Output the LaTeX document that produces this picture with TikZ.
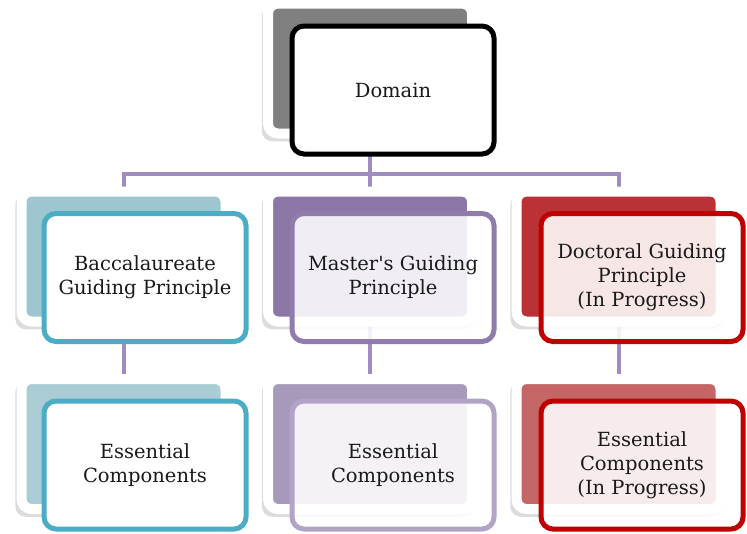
\documentclass[tikz,border=0pt]{standalone}
\usepackage{fontspec}
\setmainfont{DejaVu Serif}
\usetikzlibrary{shadows,backgrounds}
\definecolor{linkc}{RGB}{160,141,192}
\definecolor{txt}{RGB}{25,25,25}
\definecolor{domgray}{RGB}{128,128,128}
\definecolor{tealbk}{RGB}{157,198,208}
\definecolor{tealbkl}{RGB}{170,205,213}
\definecolor{tealln}{RGB}{75,172,198}
\definecolor{purbk}{RGB}{139,118,165}
\definecolor{purln}{RGB}{144,124,172}
\definecolor{purbkl}{RGB}{166,153,186}
\definecolor{purlnl}{RGB}{178,164,199}
\definecolor{redbk}{RGB}{186,50,53}
\definecolor{redbkl}{RGB}{196,101,102}
\definecolor{redln}{RGB}{192,0,0}

\begin{document}
\begin{tikzpicture}[x=1pt,y=-1pt,
  back/.style={draw=white,line width=10pt,rounded corners=10pt,minimum width=204pt,minimum height=130pt,inner sep=0pt,
    drop shadow={shadow xshift=-2pt,shadow yshift=-5pt,shadow scale=1.04,opacity=.28}},
  front/.style={draw=#1,line width=5pt,rounded corners=12pt,minimum width=202pt,minimum height=128pt,inner sep=2pt,
    fill=white,text=txt,text opacity=1,align=center,font=\fontsize{19.5}{24}\selectfont},
  see/.style={fill opacity=.88},
  link/.style={draw=linkc,line width=4pt}]
\useasboundingbox (0,0) rectangle (747,533);
\node[back,fill=domgray] (dombk) at (370,68.5) {};
\node[back,fill=tealbk] (bacbk) at (123.5,256.5) {};
\node[back,fill=purbk] (masbk) at (370,256.5) {};
\node[back,fill=redbk] (docbk) at (618.5,256.5) {};
\node[back,fill=tealbkl] (bacecbk) at (123.5,444) {};
\node[back,fill=purbkl] (masecbk) at (370,444) {};
\node[back,fill=redbkl] (docecbk) at (618.5,444) {};
\coordinate (hub) at (370,174);
\begin{pgfonlayer}{background}
\draw[link] (dombk.center) -- (hub);
\draw[link] (bacbk.center) |- (hub) -| (docbk.center);
\draw[link] (hub) -- (masbk.center);
\draw[link] (bacbk.center) -- (bacecbk.center);
\draw[link] (masbk.center) -- (masecbk.center);
\draw[link] (docbk.center) -- (docecbk.center);
\end{pgfonlayer}
\node[front=black] (dom) at (393,90) {Domain};
\node[front=tealln] (bac) at (145,277.5) {Baccalaureate\\Guiding Principle};
\node[front=purln,see] (mas) at (393,277.5) {Master\textquotesingle s Guiding\\Principle};
\node[front=redln,see] (doc) at (642,277.5) {Doctoral Guiding\\Principle\\(In Progress)};
\node[front=tealln] (bacec) at (145,465) {Essential\\Components};
\node[front=purlnl,see] (masec) at (393,465) {Essential\\Components};
\node[front=redln,see] (docec) at (642,465) {Essential\\Components\\(In Progress)};
\end{tikzpicture}
\end{document}
